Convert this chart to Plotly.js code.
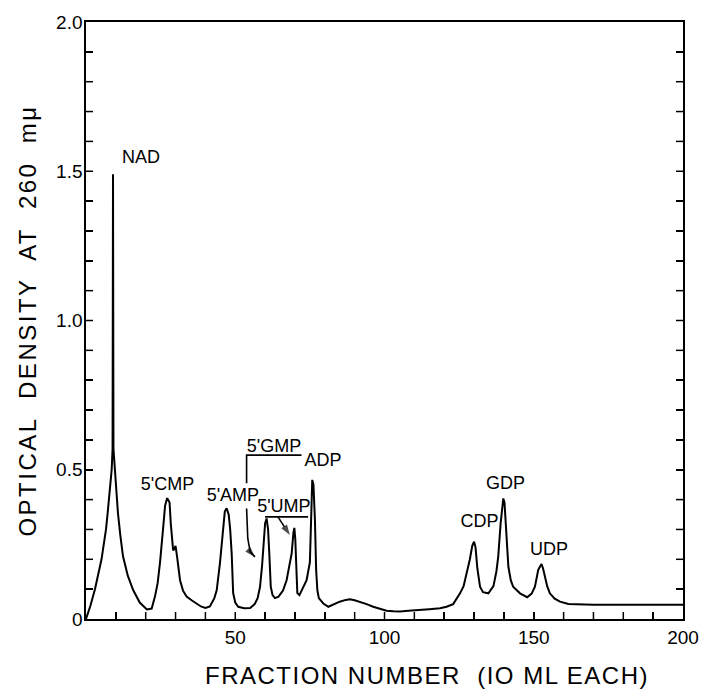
<!DOCTYPE html>
<html>
<head>
<meta charset="utf-8">
<script src="https://cdn.plot.ly/plotly-3.0.1.min.js"></script>
<style>
html,body{margin:0;padding:0;background:#fff;}
.ytitle{letter-spacing:2.5px;}
.xtitle{letter-spacing:1.5px;}
</style>
</head>
<body>
<div id="chart" style="width:704px;height:690px;"></div>
<script>
// Fraction number (10 ml each)
const fraction = [0,1.5,3,4.2,5.2,6.1,6.7,7.3,7.8,8.3,8.6,8.9,9.05,9.2,9.8,10.7,11.5,12.4,14,15.8,18,20.4,22,23.1,24,24.8,25.8,26.5,27.2,28,28.4,29.2,29.6,30,30.5,31.5,32.5,33.7,35.5,37,38.5,40,41.5,43,43.8,44.9,45.8,46.5,47.1,47.8,48.3,48.8,49.3,50,51,53,55,56.5,57.5,58.3,59,59.4,60,60.5,61,61.4,61.9,62.5,63.3,64.5,66,67.2,68.3,68.9,69.5,69.8,70.1,70.4,70.8,71.5,72.5,73.9,75,75.3,75.6,75.8,76.2,76.7,77.1,77.5,78,79.5,81.2,83,85,87,88.4,90,91.8,94,96.2,98.5,100.7,103,105.2,108,111.9,115,118.6,120.8,123,125.3,126.5,127.5,128.6,129.4,130,130.5,131.1,132,133,134.8,136.5,137.5,138.1,138.9,139.5,139.8,140.2,140.7,141.5,142.3,143.1,145.4,147.8,149.3,150.4,151.5,152.2,152.6,153.1,153.7,154.5,155.4,157,158.8,161.6,170,180,200];
// Optical density at 260 mμ
const density = [0,0.045,0.1,0.15,0.2,0.26,0.3,0.36,0.41,0.46,0.5,0.57,1.49,0.57,0.48,0.355,0.28,0.21,0.145,0.097,0.055,0.032,0.035,0.075,0.12,0.19,0.3,0.38,0.405,0.39,0.32,0.23,0.235,0.245,0.21,0.13,0.095,0.075,0.062,0.053,0.042,0.037,0.042,0.07,0.097,0.19,0.3,0.36,0.371,0.35,0.3,0.22,0.087,0.055,0.041,0.036,0.037,0.05,0.07,0.108,0.18,0.24,0.32,0.337,0.3,0.22,0.108,0.08,0.07,0.075,0.095,0.13,0.19,0.22,0.29,0.305,0.27,0.175,0.087,0.08,0.1,0.13,0.19,0.3,0.45,0.466,0.45,0.33,0.164,0.097,0.07,0.052,0.041,0.05,0.058,0.064,0.066,0.063,0.058,0.05,0.041,0.034,0.028,0.026,0.025,0.028,0.03,0.033,0.036,0.041,0.05,0.086,0.11,0.15,0.2,0.245,0.259,0.24,0.17,0.108,0.09,0.086,0.11,0.16,0.209,0.32,0.395,0.404,0.39,0.32,0.175,0.13,0.108,0.086,0.073,0.085,0.108,0.165,0.18,0.184,0.17,0.142,0.11,0.086,0.068,0.058,0.05,0.048,0.048,0.048];

// Peak labels
const peakLabels = ["NAD","5'CMP","5'AMP","5'GMP","5'UMP","ADP","CDP","GDP","UDP"];
const labelX = [18.4,27.3,49.2,63.0,66.3,79.4,131.8,140.5,155.1];
const labelY = [1.544,0.446,0.409,0.576,0.372,0.529,0.322,0.452,0.229];

// Label guide lines (bracket, underline) and arrows
const gmpBracketX = [72.2,53.8,53.8];
const gmpBracketY = [0.549,0.549,0.455];
const gmpArrowX = [53.8,54.2,55.0,56.6];
const gmpArrowY = [0.37,0.27,0.225,0.208];
const umpLineX = [60.0,74.4];
const umpLineY = [0.342,0.342];
const umpArrowX = [64.3,68.3];
const umpArrowY = [0.342,0.281];

// Axis tick labels
const xTickVals = [50,100,150,200];
const xTickText = ["50","100","150","200"];
const yTickVals = [0,0.5,1.0,1.5,2.0];
const yTickText = ["0","0.5","1.0","1.5","2.0"];
const xTickStep = 10;
const yTickStep = 0.1;

const FONT = '"Liberation Sans", Arial, sans-serif';

function buildTicks(max, step, vals, texts){
  const tv = [], tt = [];
  const n = Math.round(max/step);
  for(let i=0;i<=n;i++){
    const v = +(i*step).toFixed(4);
    tv.push(v);
    const k = vals.findIndex(u => Math.abs(u-v) < 1e-6);
    tt.push(k >= 0 ? texts[k] : '');
  }
  return {tv, tt};
}
const xt = buildTicks(200, xTickStep, xTickVals, xTickText);
const yt = buildTicks(2, yTickStep, yTickVals, yTickText);

const L=86, R=21, T=22, B=71, W=704, H=690;
const TICK = 7;                    // tick length in px
const plotW = W-L-R, plotH = H-T-B;
const guide = {color:'#000', width:1.6};
const tickLine = {color:'#000', width:1.5};

// inward tick marks, placed by the axes (x ticks on bottom, y ticks on both sides)
const tickShapes = [];
xt.tv.forEach(v => { if (v > 0 && v < 200) tickShapes.push({type:'line', xref:'x', yref:'paper', x0:v, x1:v, y0:0, y1:TICK/plotH, line:tickLine, layer:'above'}); });
yt.tv.forEach(v => { if (v > 0 && v < 2) {
  tickShapes.push({type:'line', xref:'paper', yref:'y', x0:0, x1:TICK/plotW, y0:v, y1:v, line:tickLine, layer:'above'});
  tickShapes.push({type:'line', xref:'paper', yref:'y', x0:1-TICK/plotW, x1:1, y0:v, y1:v, line:tickLine, layer:'above'});
}});

function arrowTrace(xs, ys){
  return {x: xs, y: ys, type:'scatter', mode:'lines+markers', line:guide,
    marker:{symbol:'arrow', size: xs.map((_, i) => i === xs.length-1 ? 11 : 0), color:'#000', angleref:'previous', line:{width:0}},
    hoverinfo:'skip', showlegend:false};
}

const traces = [
  {x: fraction, y: density, type:'scatter', mode:'lines', line:{color:'#000', width:2}, showlegend:false, name:'OD 260'},
  {x: gmpBracketX, y: gmpBracketY, type:'scatter', mode:'lines', line:guide, hoverinfo:'skip', showlegend:false},
  {x: umpLineX, y: umpLineY, type:'scatter', mode:'lines', line:guide, hoverinfo:'skip', showlegend:false},
  arrowTrace(gmpArrowX, gmpArrowY),
  arrowTrace(umpArrowX, umpArrowY),
  {x: labelX, y: labelY, text: peakLabels, type:'scatter', mode:'text', textposition:'middle center',
    textfont:{family:FONT, size:18, color:'#000'}, hoverinfo:'skip', showlegend:false}
];

const layout = {
  width:W, height:H,
  margin:{l:L, r:R, t:T, b:B, pad:0},
  paper_bgcolor:'#fff', plot_bgcolor:'#fff',
  font:{family:FONT, color:'#000'},
  showlegend:false,
  xaxis:{range:[0,200], showline:true, linecolor:'#000', linewidth:2, mirror:true,
    showgrid:false, zeroline:false, ticks:'inside', ticklen:TICK, tickwidth:1.5, tickcolor:'#000',
    tickmode:'array', tickvals:xt.tv, ticktext:xt.tt,
    tickfont:{family:FONT, size:19, color:'#000'},
    title:{text:'FRACTION NUMBER  (IO ML EACH)', font:{family:FONT, size:24, color:'#000'}, standoff:20},
    automargin:false, fixedrange:true},
  yaxis:{range:[0,2], showline:true, linecolor:'#000', linewidth:2, mirror:'allticks',
    showgrid:false, zeroline:false, ticks:'inside', ticklen:TICK, tickwidth:1.5, tickcolor:'#000',
    tickmode:'array', tickvals:yt.tv, ticktext:yt.tt,
    tickfont:{family:FONT, size:19, color:'#000'},
    title:{text:'OPTICAL  DENSITY  AT  260  mμ', font:{family:FONT, size:24, color:'#000'}, standoff:10},
    automargin:false, fixedrange:true},
  shapes: tickShapes
};

Plotly.newPlot('chart', traces, layout, {displayModeBar:false, staticPlot:true}).then(gd => {
  const svg = gd.querySelector('svg.main-svg');
  const sr = svg.getBoundingClientRect();
  // x title: the reference centres it right of the plot centre
  const xtEl = gd.querySelector('.xtitle');
  if (xtEl) {
    const r = xtEl.getBoundingClientRect();
    const cx = (r.left + r.right)/2 - sr.left;
    const dx = 427 - cx;
    xtEl.setAttribute('x', (+xtEl.getAttribute('x') || 0) + dx);
    xtEl.querySelectorAll('tspan[x]').forEach(t => t.setAttribute('x', (+t.getAttribute('x')) + dx));
  }
  // y tick labels: keep them close to the axis as in the reference
  gd.querySelectorAll('.ytick text, g.ytick text').forEach(el => {
    if (!el.textContent) return;
    const r = el.getBoundingClientRect();
    if (r.width === 0) return;
    const right = r.right - sr.left;
    const d = 82.5 - right;
    if (Math.abs(d) > 2) el.setAttribute('x', (+el.getAttribute('x') || 0) + d);
  });
});
</script>
</body>
</html>
